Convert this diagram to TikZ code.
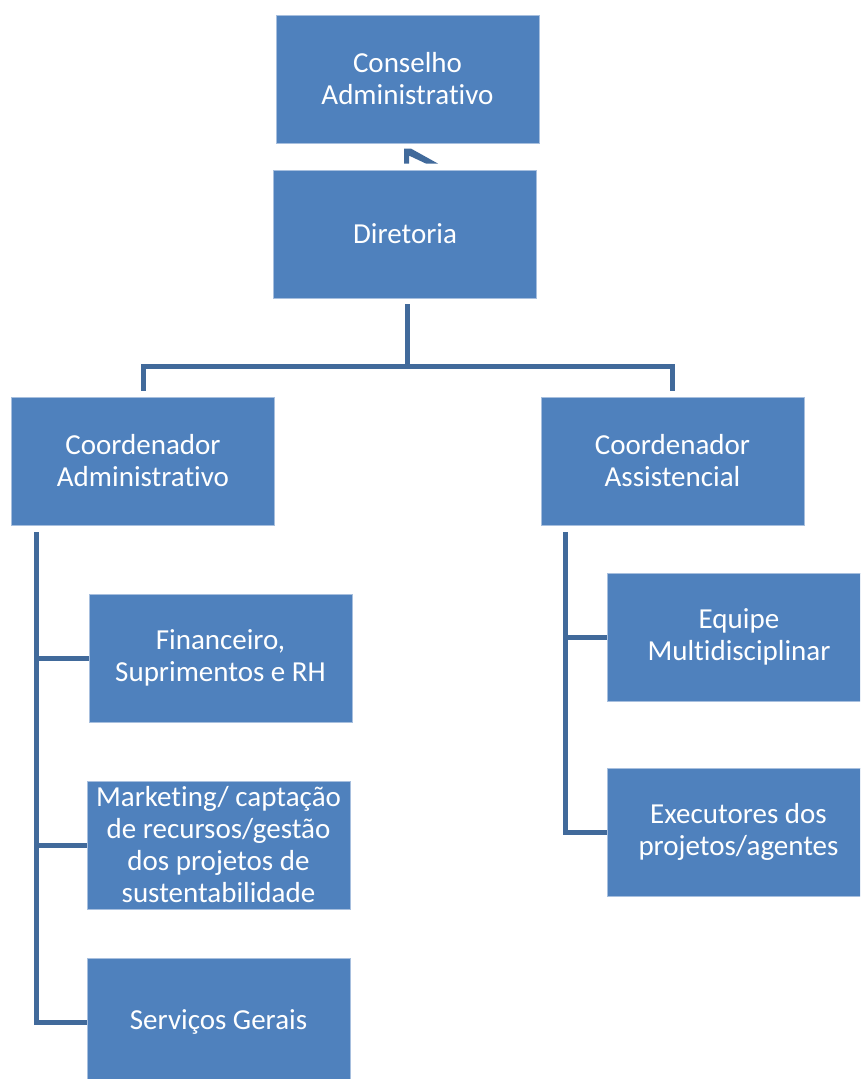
\documentclass[tikz,border=0pt]{standalone}
\usepackage{fontspec}
\setmainfont{Carlito}[Ligatures=NoCommon]
\definecolor{boxblue}{HTML}{4F81BD}
\definecolor{boxedge}{HTML}{A7BFDE}
\definecolor{conncol}{HTML}{416A9B}
\begin{document}
\begin{tikzpicture}[x=1pt,y=-1pt,
  orgbox/.style={rectangle, fill=boxblue, draw=boxedge, line width=0.8pt,
    minimum width=263pt, minimum height=128pt, inner sep=0pt,
    text=white, align=center, font=\fontsize{29}{32}\selectfont},
  conn/.style={draw=conncol, line width=5pt}]
\useasboundingbox (0,0) rectangle (860,1079);
\clip (0,0) rectangle (860,1079);
\node[orgbox] (cons) at (407.5,79) {Conselho\\Administrativo};
\node[orgbox] (dir) at (405,234) {Diretoria};
\node[orgbox] (ca) at (143,461) {Coordenador\\Administrativo};
\node[orgbox] (cs) at (672.5,461) {Coordenador\\Assistencial};
\node[orgbox] (fin) at (220.5,658) {Financeiro,\\Suprimentos e RH};
\node[orgbox] (mkt) at (218.5,845) {Marketing/ captação\\de recursos/gestão\\dos projetos de\\sustentabilidade};
\node[orgbox] (srv) at (218.5,1022) {Serviços Gerais};
\node[orgbox] (eq) at (739,637) {Equipe\\Multidisciplinar};
\node[orgbox] (ex) at (738.5,832) {Executores dos\\projetos/agentes};
% odd stub between Conselho and Diretoria
\fill[conncol] ([shift={(-1pt,6pt)}]dir.north) -- ([shift={(-1pt,21pt)}]dir.north)
  -- ([shift={(6pt,21pt)}]dir.north) -- ([shift={(33pt,6pt)}]dir.north)
  -- ([shift={(21pt,6pt)}]dir.north) -- ([shift={(4pt,14pt)}]dir.north)
  -- ([shift={(4pt,6pt)}]dir.north) -- cycle;
% Diretoria to coordinators
\coordinate (j) at (407,366);
\draw[conn] ([xshift=2pt,yshift=-6pt]dir.south) -- (j);
\draw[conn] ([yshift=6pt]ca.north) |- (j) -| ([yshift=6pt]cs.north);
% left tree
\coordinate (lt) at ([xshift=25pt,yshift=-7pt]ca.south west);
\draw[conn] (lt) |- (srv.west);
\draw[conn] (lt |- fin.west) -- (fin.west);
\draw[conn] (lt |- mkt.west) -- (mkt.west);
% right tree
\coordinate (rt) at ([xshift=25pt,yshift=-7pt]cs.south west);
\draw[conn] (rt) |- (ex.west);
\draw[conn] (rt |- eq.west) -- (eq.west);
\end{tikzpicture}
\end{document}
